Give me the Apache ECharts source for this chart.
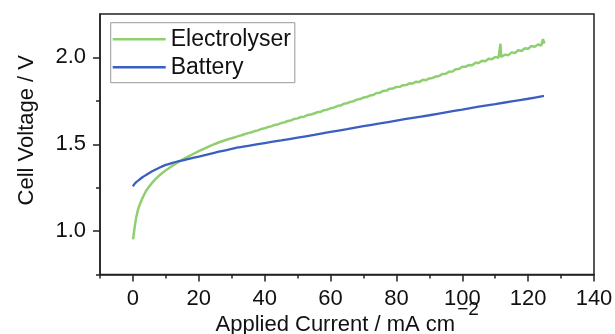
<!DOCTYPE html>
<html><head><meta charset="utf-8">
<script src="https://cdn.jsdelivr.net/npm/echarts@6/dist/echarts.min.js"></script>
<style>html,body{margin:0;padding:0;background:#fff}#c{width:615px;height:334px}</style>
</head><body><div id="c"></div>
<script>
const seriesNames = ['Electrolyser', 'Battery'];

const electrolyserX = [0,0.2,0.5,1,1.5,2,3,4,5,6,7,8,9,10,11,12,13,14,15,16,18,20,22,24,26,28,30,
  31,32,33,34,35,36,37,38,39,40,41,42,43,44,45,46,47,48,49,50,
  51,52,53,54,55,56,57,58,59,60,61,62,63,64,65,66,67,68,69,70,
  71,72,73,74,75,76,77,78,79,80,81,82,83,84,85,86,87,88,89,90,
  91,92,93,94,95,96,97,98,99,100,101,102,103,104,105,106,107,108,109,110,
  111,111.4,111.6,111.8,112,113,114,115,116,117,118,119,120,121,122,123,124,124.5,125];
const electrolyserY = [0.952,0.975,1.02,1.08,1.12,1.15,1.195,1.232,1.258,1.282,1.302,1.32,1.336,1.35,1.363,1.376,1.388,1.4,1.411,1.421,1.441,1.46,1.478,1.495,1.51,1.523,1.535,
  1.540,1.547,1.552,1.559,1.564,1.569,1.576,1.580,1.588,1.592,1.599,1.603,1.611,1.614,1.622,1.626,1.634,1.637,1.646,1.649,
  1.657,1.659,1.668,1.671,1.677,1.684,1.687,1.696,1.699,1.707,1.711,1.720,1.723,1.733,1.736,1.744,1.748,1.757,1.760,1.769,
  1.772,1.781,1.784,1.795,1.797,1.807,1.809,1.820,1.821,1.830,1.831,1.840,1.841,1.851,1.850,1.860,1.859,1.871,1.869,1.879,
  1.882,1.890,1.893,1.905,1.906,1.918,1.919,1.932,1.933,1.946,1.946,1.957,1.955,1.969,1.968,1.981,1.978,1.992,1.989,2.003,
  1.998,2.001,2.079,2.003,2.004,2.016,2.013,2.029,2.026,2.041,2.037,2.053,2.050,2.066,2.061,2.074,2.069,2.105,2.080];

const batteryX = [0,0.5,1,2,3,4,5,6,8,10,12,14,17,20,25,30,35,40,45,50,55,60,65,70,75,80,85,90,95,100,105,110,115,120,124.8];
const batteryY = [1.258,1.272,1.282,1.297,1.311,1.323,1.335,1.346,1.365,1.381,1.393,1.403,1.416,1.429,1.452,1.474,1.491,1.507,1.522,1.538,1.554,1.571,1.587,1.604,1.62,1.636,1.652,1.667,1.684,1.7,1.716,1.731,1.747,1.762,1.778];

const xTickLabels = [0,20,40,60,80,100,120,140];
const xMinorTicks = [-10,10,30,50,70,90,110,130];
const yTickLabels = [1.0,1.5,2.0];
const yMinorTicks = [0.75,1.25,1.75];

const FONT = "'Liberation Sans', Arial, sans-serif";
const AX = '#222';
const TXT = '#111';
const GREEN = '#8fcf70';
const BLUE = '#3b5fc0';

const zip = (xs, ys) => xs.map((x, i) => [x, ys[i]]);

const chart = echarts.init(document.getElementById('c'), null, {renderer: 'canvas'});
chart.setOption({
  animation: false,
  backgroundColor: '#fff',
  grid: {left: 100, right: 21, top: 14, bottom: 59.5, containLabel: false, outerBoundsMode: 'none',
    show: true, borderColor: AX, borderWidth: 1.5, backgroundColor: 'transparent'},
  legend: {
    orient: 'vertical', left: 110.7, top: 22.7,
    icon: 'rect', itemWidth: 53, itemHeight: 2.5, itemGap: 5,
    padding: [5, 4, 4, 2],
    borderColor: '#999', borderWidth: 1,
    textStyle: {fontSize: 23, color: TXT, fontFamily: FONT},
    data: seriesNames
  },
  xAxis: [{
    type: 'value', min: -10, max: 140, interval: 10, position: 'bottom',
    axisLine: {show: true, onZero: false, lineStyle: {color: AX, width: 1.5}},
    axisTick: {show: true, inside: false, length: 7, customValues: xTickLabels, lineStyle: {color: AX, width: 1.5}},
    axisLabel: {customValues: xTickLabels, margin: 13, fontSize: 22, color: TXT, fontFamily: FONT},
    splitLine: {show: false},
    name: '{c| }{a|Applied Current / mA cm}{b|\u22122}',
    nameLocation: 'middle', nameGap: 26, nameMoveOverlap: false,
    nameTextStyle: {
      rich: {
        c: {fontSize: 1, lineHeight: 35, verticalAlign: 'bottom'},
        a: {fontSize: 22, lineHeight: 22, color: TXT, fontFamily: FONT, verticalAlign: 'bottom'},
        b: {fontSize: 19, lineHeight: 22, color: TXT, fontFamily: FONT, verticalAlign: 'top', padding: [0, 0, 0, 2]}
      }
    }
  }, {
    type: 'value', min: -10, max: 140, interval: 10, position: 'bottom',
    axisLine: {show: false, onZero: false},
    axisTick: {show: true, inside: false, length: 4, customValues: xMinorTicks, lineStyle: {color: AX, width: 1.5}},
    axisLabel: {show: false},
    splitLine: {show: false}
  }],
  yAxis: [{
    type: 'value', min: 0.75, max: 2.25, interval: 0.25, position: 'left',
    axisLine: {show: true, onZero: false, lineStyle: {color: AX, width: 1.5}},
    axisTick: {show: true, inside: false, length: 7, customValues: yTickLabels, lineStyle: {color: AX, width: 1.5}},
    axisLabel: {customValues: yTickLabels, margin: 14, fontSize: 22, color: TXT, fontFamily: FONT, formatter: v => Number(v).toFixed(1)},
    splitLine: {show: false},
    name: 'Cell Voltage / V', nameLocation: 'middle', nameGap: 62, nameMoveOverlap: false,
    nameTextStyle: {fontSize: 22, color: TXT, fontFamily: FONT, padding: [0, 0, 0, 28]}
  }, {
    type: 'value', min: 0.75, max: 2.25, interval: 0.25, position: 'left',
    axisLine: {show: false, onZero: false},
    axisTick: {show: true, inside: false, length: 4, customValues: yMinorTicks, lineStyle: {color: AX, width: 1.5}},
    axisLabel: {show: false},
    splitLine: {show: false}
  }],
  series: [{
    name: seriesNames[0], type: 'line', xAxisIndex: 0, yAxisIndex: 0,
    symbol: 'none', smooth: false,
    lineStyle: {color: GREEN, width: 2.5},
    itemStyle: {color: GREEN},
    data: zip(electrolyserX, electrolyserY)
  }, {
    name: seriesNames[1], type: 'line', xAxisIndex: 0, yAxisIndex: 0,
    symbol: 'none', smooth: 0.3,
    lineStyle: {color: BLUE, width: 2.3},
    itemStyle: {color: BLUE},
    data: zip(batteryX, batteryY)
  }]
});
</script>
</body></html>
